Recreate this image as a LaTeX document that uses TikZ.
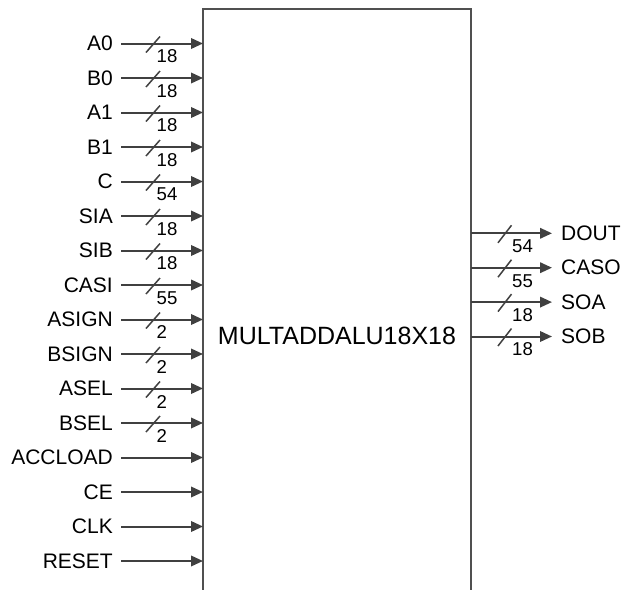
\documentclass[tikz,border=0pt]{standalone}
\usepackage{fontspec}
\setmainfont{Liberation Sans}
\usetikzlibrary{arrows.meta}
\definecolor{linec}{RGB}{64,64,64}
\definecolor{boxc}{RGB}{80,80,80}
\begin{document}
\begin{tikzpicture}[x=1pt,y=-1pt,
  pin/.style={draw=linec,line width=2pt,-{Triangle[length=12pt,width=10.5pt]}},
  lbl/.style={inner sep=0pt,font=\fontsize{21}{21}\selectfont},
  num/.style={inner sep=0pt,anchor=west,font=\fontsize{18.6}{18.6}\selectfont},
  bus/.style={draw=linec,line width=1.5pt},
  boxline/.style={draw=boxc,line width=2pt}]
\useasboundingbox (0,0) rectangle (625,590);
% block outline (open at the bottom)
\coordinate (bl) at (203,592);
\coordinate (tl) at (203,9);
\coordinate (tr) at (471,9);
\coordinate (br) at (471,592);
\draw[boxline] (bl) -- (tl) -- (tr) -- (br);
\node[inner sep=0pt,font=\fontsize{25}{25}\selectfont] (core) at (337,336) {MULTADDALU18X18};
% bused inputs
\foreach \n/\w [count=\i] in {A0/18,B0/18,A1/18,B1/18,C/54,SIA/18,SIB/18,CASI/55,ASIGN/2,BSIGN/2,ASEL/2,BSEL/2} {
  \pgfmathsetmacro\yy{43.5+34.5*(\i-1)}
  \node[lbl,anchor=east] (L\n) at (113,\yy) {\n};
  \coordinate (E\n) at (203,\yy);
  \draw[pin] ([xshift=8pt]L\n.east) -- (E\n);
  \draw[bus] ([shift={(-57,9)}]E\n) -- ([shift={(-43,-7)}]E\n);
  \node[num] (N\n) at ([shift={(-46.5,13)}]E\n) {\w};
}
% single inputs
\foreach \n [count=\i from 13] in {ACCLOAD,CE,CLK,RESET} {
  \pgfmathsetmacro\yy{43.5+34.5*(\i-1)}
  \node[lbl,anchor=east] (L\n) at (113,\yy) {\n};
  \coordinate (E\n) at (203,\yy);
  \draw[pin] ([xshift=8pt]L\n.east) -- (E\n);
}
% bused outputs
\foreach \n/\w [count=\i] in {DOUT/54,CASO/55,SOA/18,SOB/18} {
  \pgfmathsetmacro\yy{233.3+34.4*(\i-1)}
  \coordinate (S\n) at (471,\yy);
  \node[lbl,anchor=west] (R\n) at (561,\yy) {\n};
  \draw[pin] (S\n) -- ([xshift=-9pt]R\n.west);
  \draw[bus] ([shift={(27,9.5)}]S\n) -- ([shift={(40.5,-8)}]S\n);
  \node[num] (M\n) at ([shift={(41,13)}]S\n) {\w};
}
\end{tikzpicture}
\end{document}
